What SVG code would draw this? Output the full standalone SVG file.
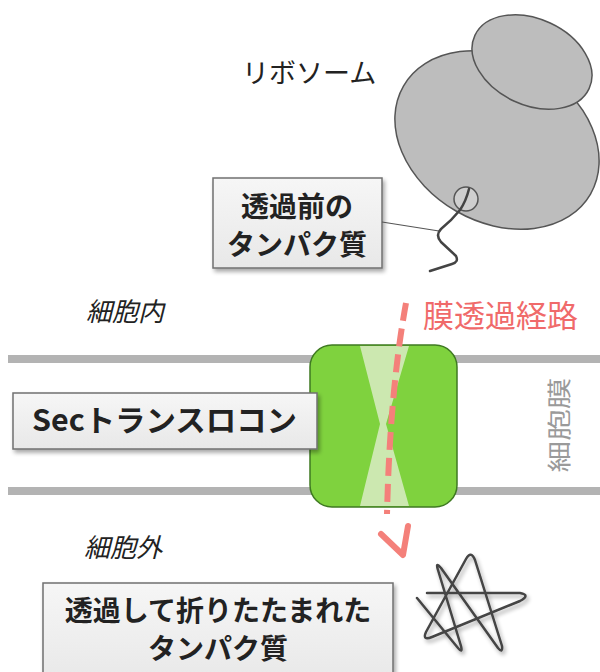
<svg xmlns="http://www.w3.org/2000/svg" width="600" height="672" viewBox="0 0 600 672">
  <defs>
    <filter id="shadow" x="-10%" y="-10%" width="130%" height="140%">
      <feGaussianBlur in="SourceAlpha" stdDeviation="2"/>
      <feOffset dx="2" dy="3" result="b"/>
      <feComponentTransfer><feFuncA type="linear" slope="0.35"/></feComponentTransfer>
      <feMerge><feMergeNode/><feMergeNode in="SourceGraphic"/></feMerge>
    </filter>
    <linearGradient id="boxfill" x1="0" y1="0" x2="0" y2="1">
      <stop offset="0" stop-color="#f6f6f6"/>
      <stop offset="1" stop-color="#e8e8e8"/>
    </linearGradient>
  </defs>
  <style>
    .jp { font-family: "Noto Sans CJK JP", "Noto Sans", sans-serif; }
    .box { fill: url(#boxfill); stroke: #707070; stroke-width: 1.5; filter: url(#shadow); }
    .boxtext { font-size: 28px; font-weight: bold; fill: #222; text-anchor: middle; }
    .region { font-size: 26px; font-style: italic; fill: #222; }
    .membrane { fill: #b3b3b3; }
    .ribo { fill: #bdbdbd; stroke: #555; stroke-width: 1.5; }
    .chain { fill: none; stroke: #444; stroke-width: 2.5; stroke-linecap: round; stroke-linejoin: round; }
    .path { fill: none; stroke: #f4807a; stroke-width: 6; }
  </style>

  <rect width="600" height="672" fill="#ffffff"/>

  <!-- lipid bilayer edges -->
  <g id="membrane">
    <rect class="membrane" x="8" y="355" width="592" height="8"/>
    <rect class="membrane" x="8" y="487" width="592" height="8"/>
    <text class="jp" transform="translate(568,425) rotate(-90)" font-size="24" fill="#9a9a9a" text-anchor="middle" textLength="95" lengthAdjust="spacingAndGlyphs">細胞膜</text>
  </g>

  <!-- ribosome with nascent chain -->
  <g id="ribosome">
    <ellipse class="ribo" cx="497" cy="140" rx="108" ry="82" transform="rotate(30 497 140)"/>
    <ellipse class="ribo" cx="532" cy="62" rx="63" ry="43" transform="rotate(25 532 62)"/>
    <circle cx="466" cy="199" r="12" fill="#cfcfcf" stroke="#555" stroke-width="1.5"/>
    <path class="chain" d="M469,189 Q466,201 460,210 Q452,220 441,229 Q435,235 441,242 L456,256 Q459,262 452,264 L430,271"/>
    <text class="jp" x="242" y="83" font-size="27" fill="#222">リボソーム</text>
  </g>

  <!-- translocon channel -->
  <g id="translocon">
    <rect x="310" y="345" width="147" height="162" rx="22" ry="22" fill="#7fd23e" stroke="#3f7a22" stroke-width="1.5"/>
    <polygon points="360,346 409,346 386,424 409,506 360,506 380,424" fill="#d9ecc4" opacity="0.85"/>
  </g>

  <!-- labels -->
  <g id="label-before">
    <rect class="box" x="213" y="178" width="169" height="90"/>
    <text class="jp boxtext" x="297" y="217">透過前の</text>
    <text class="jp boxtext" x="297" y="255">タンパク質</text>
  </g>

  <g id="label-sec">
    <rect class="box" x="13" y="393" width="304" height="56"/>
    <text class="jp" x="32" y="431" font-size="30" font-weight="bold" fill="#222" textLength="265" lengthAdjust="spacingAndGlyphs">Secトランスロコン</text>
  </g>

  <g id="label-after">
    <rect class="box" x="43" y="583" width="350" height="100"/>
    <text class="jp boxtext" x="218" y="621">透過して折りたたまれた</text>
    <text class="jp boxtext" x="218" y="659">タンパク質</text>
  </g>

  <g id="label-inside">
    <text class="jp region" x="86" y="321">細胞内</text>
  </g>
  <g id="label-outside">
    <text class="jp region" x="84" y="557">細胞外</text>
  </g>

  <!-- folded protein -->
  <g id="folded-protein" filter="url(#shadow)">
    <path class="chain" stroke-width="3.5" d="M417,598 L458,648 Q463,654 461,646 L438,570 Q435,561 441,568 L498,648 Q503,654 502,646 L475,560 Q471,550 466,559 L426,632 Q422,641 432,637 L520,601 Q531,595 520,593 L427,593"/>
  </g>

  <!-- callout and membrane passage route -->
  <g id="connectors">
    <line x1="382" y1="222" x2="439" y2="231" stroke="#555" stroke-width="1.2"/>
    <path class="path" stroke-dasharray="18 8" d="M406,303 Q390,390 387,514"/>
    <polyline class="path" stroke-width="7" stroke-linecap="round" stroke-linejoin="round" points="381,534 403,555 408,526"/>
    <text class="jp" x="423" y="327" font-size="31" fill="#f06a6a">膜透過経路</text>
  </g>
</svg>
